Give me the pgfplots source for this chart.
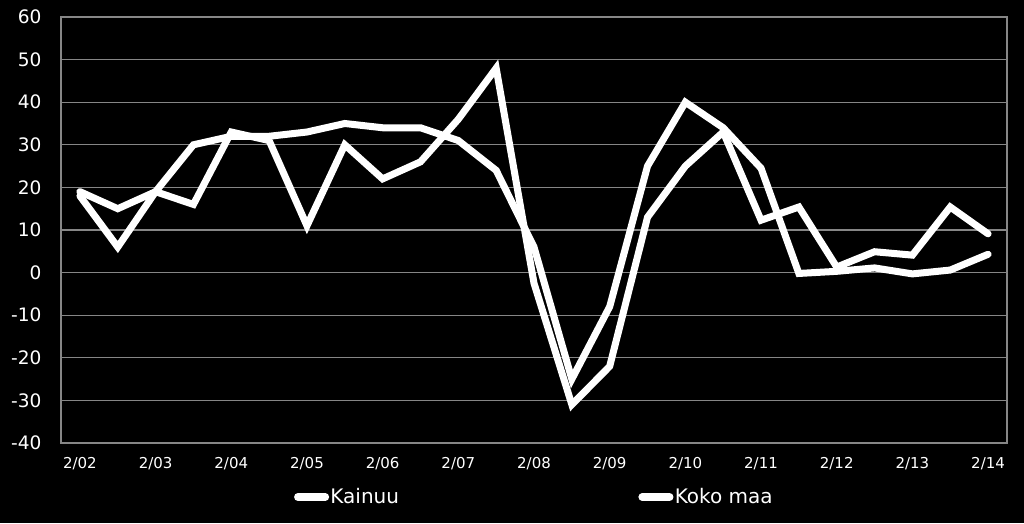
\documentclass[border=0pt]{standalone}
\usepackage{fontspec}
\setmainfont{DejaVu Sans}
\usepackage{pgfplots}
\pgfplotsset{compat=1.18}
\usepackage{pgfplotstable}
\usetikzlibrary{backgrounds}

\definecolor{gridgray}{RGB}{134,134,134}

% half-year observations, 2/02 ... 2/14
\pgfplotstableread{
idx kainuu koko
0   19    18
1   15    6
2   19    19
3   16    30
4   33    32
5   31    32
6   11    33
7   30    35
8   22    34
9   26    34
10  36    31
11  48    24
12  -2.5  6
13  -31   -25
14  -22   -8
15  13    25
16  25    40
17  33    34
18  12.3  24.5
19  15.4  -0.2
20  1.3   0.3
21  4.9   1.1
22  4.1   -0.3
23  15.4  0.6
24  9.1   4.3
}\saldot

\begin{document}
\begin{tikzpicture}
\begin{axis}[
    width=709.5pt, height=319.5pt, scale only axis,
    xmin=-0.5, xmax=24.5,
    ymin=-40, ymax=60,
    ytick={-40,-30,...,60},
    xtick={0,2,...,24},
    xticklabels={2/02,2/03,2/04,2/05,2/06,2/07,2/08,2/09,2/10,2/11,2/12,2/13,2/14},
    major tick length=0pt,
    ymajorgrids,
    grid style={gridgray, line width=0.8pt},
    axis line style={gridgray, line width=0.8pt},
    /pgf/number format/assume math mode=true,
    yticklabel style={text=white, font=\fontsize{13.9pt}{16pt}\selectfont,
        anchor=east, inner sep=0pt, xshift=-14.5pt},
    xticklabel style={text=white, font=\fontsize{11.25pt}{13pt}\selectfont,
        anchor=center, inner sep=0pt, yshift=-15.75pt},
    legend columns=2,
    legend style={at={(0.5,0)}, anchor=center, yshift=-40.5pt,
        draw=none, fill=none, text=white,
        font=\fontsize{15pt}{17pt}\selectfont,
        /tikz/column 2/.style={column sep=178.5pt},
        nodes={inner sep=1pt}},
    legend image code/.code={%
        \draw[white, line width=5.8pt, line cap=round] (2.9pt,0) -- (23.4pt,0);},
]
\addplot[white, line width=5.25pt, line cap=round, mark=none] table[x=idx, y=kainuu] {\saldot};
\addplot[white, line width=5.25pt, line cap=round, mark=none] table[x=idx, y=koko] {\saldot};
\legend{Kainuu, Koko maa}
\end{axis}
\begin{scope}[on background layer]
\fill[black] ([shift={(-45.75pt,-60pt)}]current axis.south west)
    rectangle ([shift={(12.75pt,12.75pt)}]current axis.north east);
\end{scope}
\pgfresetboundingbox
\useasboundingbox ([shift={(-45.75pt,-60pt)}]current axis.south west)
    rectangle ([shift={(12.75pt,12.75pt)}]current axis.north east);
\end{tikzpicture}
\end{document}
